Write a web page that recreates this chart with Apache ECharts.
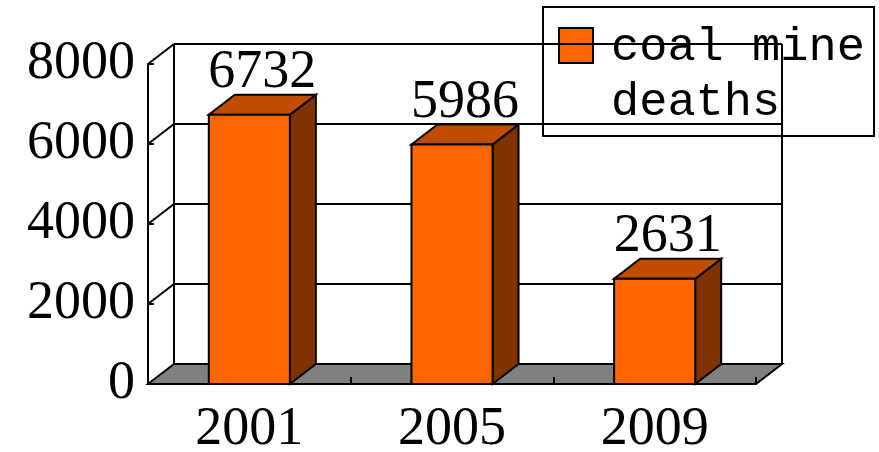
<!DOCTYPE html>
<html>
<head>
<meta charset="utf-8">
<script src="https://cdn.jsdelivr.net/npm/echarts@6/dist/echarts.min.js"></script>
<style>
  html, body { margin: 0; padding: 0; background: #fff; }
  #chart { width: 879px; height: 452px; }
</style>
</head>
<body>
<div id="chart"></div>
<script>
// data
const years = ["2001", "2005", "2009"];
const deaths = [6732, 5986, 2631];
const yTicks = [0, 2000, 4000, 6000, 8000];

// fake 3d depth (px)
const DX = 26;
const DY = 20;
const LW = 2;
const serif = "'Liberation Serif', 'Times New Roman', serif";

const chart = echarts.init(document.getElementById("chart"), null, { renderer: "canvas" });

// back wall, side wall diagonals, floor
function renderFrame(params, api) {
  const cs = params.coordSys;
  const left = cs.x;
  const right = cs.x + cs.width;
  const v = api.value(0);
  const y = api.coord([0, v])[1];
  const line = { stroke: "#000", lineWidth: LW };
  const children = [];

  if (params.dataIndex === 0) {
    const top = api.coord([0, yTicks[yTicks.length - 1]])[1];
    children.push({
      type: "polygon",
      shape: { points: [[left, y], [right, y], [right + DX, y - DY], [left + DX, y - DY]] },
      style: { fill: "#808080", stroke: "#000", lineWidth: LW },
    });
    children.push({ type: "line", shape: { x1: left + DX, y1: y - DY, x2: left + DX, y2: top - DY }, style: line });
    children.push({ type: "line", shape: { x1: right + DX, y1: y - DY, x2: right + DX, y2: top - DY }, style: line });
  } else {
    children.push({ type: "line", shape: { x1: left + DX, y1: y - DY, x2: right + DX, y2: y - DY }, style: line });
    children.push({ type: "line", shape: { x1: left, y1: y, x2: left + DX, y2: y - DY }, style: line });
  }
  return { type: "group", children: children };
}

function renderBar(params, api) {
  const idx = api.value(0);
  const val = api.value(1);
  const base = api.coord([idx, 0]);
  const top = api.coord([idx, val]);
  const w = api.size([1, 0])[0] * 0.4;
  const x0 = base[0] - w / 2;
  const x1 = x0 + w;
  const yT = top[1];
  const yB = base[1];
  const edge = { stroke: "#000", lineWidth: LW };
  return {
    type: "group",
    children: [
      {
        type: "polygon",
        shape: { points: [[x1, yT], [x1 + DX, yT - DY], [x1 + DX, yB - DY], [x1, yB]] },
        style: Object.assign({ fill: "#803300" }, edge),
      },
      {
        type: "polygon",
        shape: { points: [[x0, yT], [x1, yT], [x1 + DX, yT - DY], [x0 + DX, yT - DY]] },
        style: Object.assign({ fill: "#C04C00" }, edge),
      },
      {
        type: "rect",
        shape: { x: x0, y: yT, width: w, height: yB - yT },
        style: Object.assign({ fill: "#FF6600" }, edge),
      },
      {
        type: "text",
        x: x0 + w / 2 + DX / 2,
        y: yT - 42,
        style: {
          text: String(val),
          font: "54px " + serif,
          fill: "#000",
          align: "center",
          verticalAlign: "middle",
        },
      },
    ],
  };
}

const option = {
  animation: false,
  backgroundColor: "#fff",
  grid: { left: 148, right: 123, top: 64, bottom: 68, containLabel: false, outerBoundsMode: "none" },
  xAxis: {
    type: "category",
    data: years,
    z: 10,
    axisLine: { show: true, lineStyle: { color: "#000", width: LW } },
    axisTick: { show: true, inside: true, length: 7, lineStyle: { color: "#000", width: LW } },
    axisLabel: { color: "#000", fontSize: 54, fontFamily: serif, margin: 19 },
    splitLine: { show: false },
  },
  yAxis: {
    type: "value",
    min: 0,
    max: 8000,
    interval: 2000,
    z: 10,
    axisLine: { show: true, lineStyle: { color: "#000", width: LW } },
    axisTick: { show: true, inside: true, length: 6, lineStyle: { color: "#000", width: LW } },
    axisLabel: {
      color: "#000",
      fontSize: 54,
      fontFamily: serif,
      margin: 13,
      padding: [6, 0, 0, 0],
      formatter: function (v) { return String(v); },
    },
    splitLine: { show: false },
  },
  series: [
    {
      type: "custom",
      name: "frame",
      renderItem: renderFrame,
      data: yTicks.map(function (t) { return [t]; }),
      encode: { y: 0 },
      silent: true,
    },
    {
      type: "custom",
      name: "coal mine deaths",
      renderItem: renderBar,
      data: deaths.map(function (d, i) { return [i, d]; }),
      encode: { x: 0, y: 1 },
    },
  ],
  graphic: [
    {
      type: "group",
      left: 542,
      top: 6,
      children: [
        {
          type: "rect",
          shape: { x: 0, y: 0, width: 331, height: 129 },
          style: { fill: "#fff", stroke: "#000", lineWidth: LW },
        },
        {
          type: "rect",
          shape: { x: 16, y: 21, width: 34, height: 35 },
          style: { fill: "#FF6600", stroke: "#000", lineWidth: LW },
        },
        {
          type: "text",
          x: 68,
          y: 13,
          style: {
            text: "coal mine\ndeaths",
            font: "47px 'Liberation Mono', 'DejaVu Sans Mono', monospace",
            lineHeight: 55,
            fill: "#000",
          },
        },
      ],
    },
  ],
};

chart.setOption(option);
</script>
</body>
</html>
